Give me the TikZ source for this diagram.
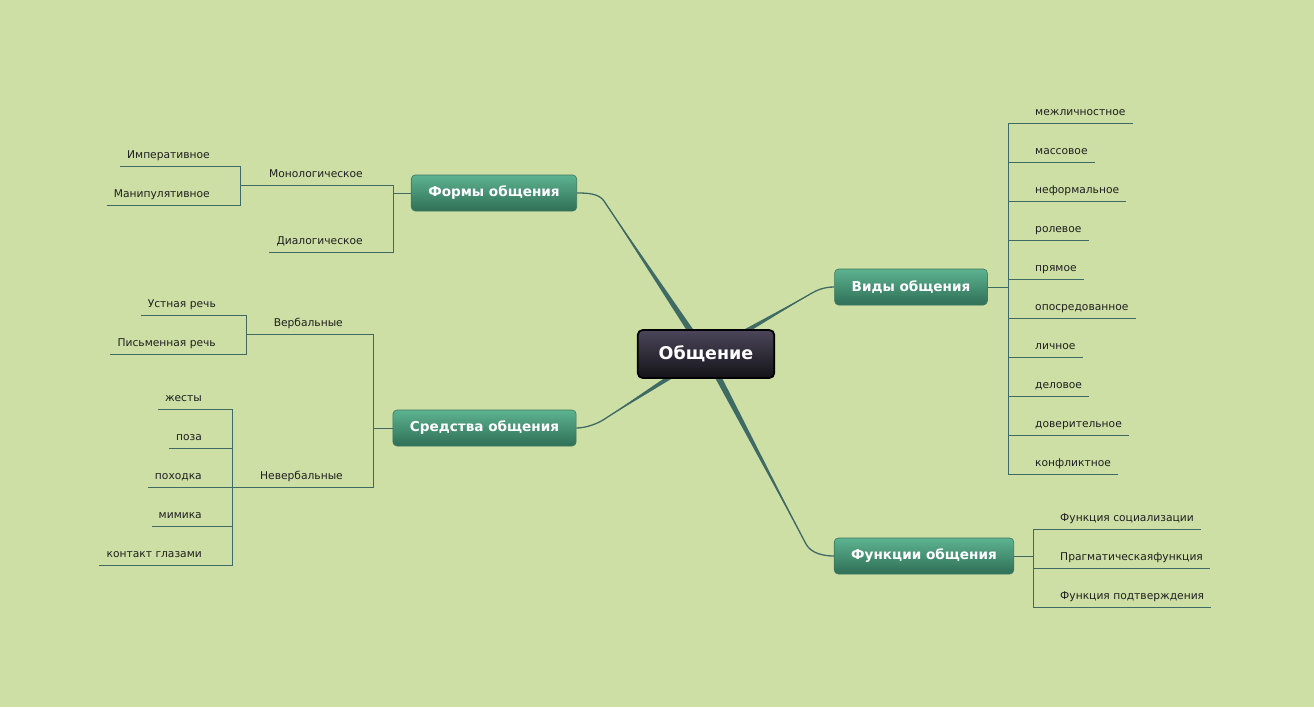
\documentclass[tikz,border=0pt]{standalone}
\usepackage{fontspec}
\setmainfont{DejaVu Sans}
\usetikzlibrary{calc,backgrounds}

\definecolor{mapbg}{RGB}{205,223,165}
\definecolor{maplink}{RGB}{64,106,100}
\definecolor{topictop}{RGB}{93,179,144}
\definecolor{topicbot}{RGB}{47,111,87}
\definecolor{topicline}{RGB}{58,120,96}
\definecolor{hubtop}{RGB}{75,70,90}
\definecolor{hubbot}{RGB}{20,19,24}

\tikzset{
    hubbox/.style={rounded corners=5pt, draw=black, line width=1.8pt, top color=hubtop, bottom color=hubbot,
        text=white, font=\fontsize{17.5}{20}\selectfont\bfseries, minimum height=48pt, inner xsep=21pt},
    topicbox/.style={rounded corners=4pt, draw=topicline, line width=0.6pt, top color=topictop, bottom color=topicbot,
        text=white, font=\fontsize{13.6}{15}\selectfont\bfseries, minimum height=36pt, inner xsep=17pt},
    leafbox/.style={font=\fontsize{10.7}{12}\selectfont, text=black!88, text height=8pt, text depth=0pt,
        inner xsep=7pt, inner ysep=7pt},
    leafl/.style={leafbox, anchor=south east},
    leafr/.style={leafbox, anchor=south west},
    linkline/.style={draw=maplink, line width=0.8pt},
    branchfill/.style={fill=maplink},
    branchline/.style={draw=maplink, line width=1.3pt}
}

\begin{document}
\begin{tikzpicture}[x=1pt, y=-1pt]
\useasboundingbox (0,0) rectangle (1314,707);

% main topics
\node[hubbox] (ob) at (706,354) {Общение};
\node[topicbox] (fo) at (494,193) {Формы общения};
\node[topicbox] (sr) at (484.5,428) {Средства общения};
\node[topicbox] (vi) at (911,287) {Виды общения};
\node[topicbox] (fu) at (924,556) {Функции общения};

% joints
\coordinate (fo-j) at (393,193);
\coordinate (mono-j) at (240,185);
\coordinate (sr-j) at (373,428);
\coordinate (verb-j) at (246,334);
\coordinate (never-j) at (232,487);
\coordinate (vi-j) at (1008,287);
\coordinate (fu-j) at (1033,556);
\coordinate (fo-b) at (604,201);
\coordinate (sr-b) at (603,420);
\coordinate (vi-b) at (812,293);
\coordinate (fu-b) at (806,544);

% forms
\node[leafl] (mono) at (370,185) {Монологическое};
\node[leafl] (dial) at (370,252) {Диалогическое};
\node[leafl] (imp) at (217,166) {Императивное};
\node[leafl] (man) at (217,205) {Манипулятивное};

% means
\node[leafl] (verb) at (350,334) {Вербальные};
\node[leafl] (never) at (350,487) {Невербальные};
\node[leafl] (ustn) at (223,315) {Устная речь};
\node[leafl] (pism) at (223,354) {Письменная речь};
\node[leafl] (zhest) at (209,409) {жесты};
\node[leafl] (poza) at (209,448) {поза};
\node[leafl] (pokh) at (209,487) {походка};
\node[leafl] (mim) at (209,526) {мимика};
\node[leafl] (kont) at (209,565) {контакт глазами};

% kinds
\node[leafr] (v1) at (1028,123) {межличностное};
\node[leafr] (v2) at (1028,162) {массовое};
\node[leafr] (v3) at (1028,201) {неформальное};
\node[leafr] (v4) at (1028,240) {ролевое};
\node[leafr] (v5) at (1028,279) {прямое};
\node[leafr] (v6) at (1028,318) {опосредованное};
\node[leafr] (v7) at (1028,357) {личное};
\node[leafr] (v8) at (1028,396) {деловое};
\node[leafr] (v9) at (1028,435) {доверительное};
\node[leafr] (v10) at (1028,474) {конфликтное};

% functions
\node[leafr] (f1) at (1053,529) {Функция социализации};
\node[leafr] (f2) at (1053,568) {Прагматическаяфункция};
\node[leafr] (f3) at (1053,607) {Функция подтверждения};

\begin{scope}[on background layer]
    \fill[mapbg] (0,0) rectangle (1314,707);
    % tapered branches from the centre
    \fill[branchfill] ($(ob.center)!3.5pt!90:(fo-b)$) -- (fo-b) -- ($(ob.center)!3.5pt!-90:(fo-b)$) -- cycle;
    \fill[branchfill] ($(ob.center)!3.5pt!90:(sr-b)$) -- (sr-b) -- ($(ob.center)!3.5pt!-90:(sr-b)$) -- cycle;
    \fill[branchfill] ($(ob.center)!3.5pt!90:(vi-b)$) -- (vi-b) -- ($(ob.center)!3.5pt!-90:(vi-b)$) -- cycle;
    \fill[branchfill] ($(ob.center)!3.5pt!90:(fu-b)$) -- (fu-b) -- ($(ob.center)!3.5pt!-90:(fu-b)$) -- cycle;
    \draw[branchline] (ob.center) -- (fo-b) .. controls ($(ob.center)!1.05!(fo-b)$) and ([xshift=10pt]fo.east) .. (fo.east);
    \draw[branchline] (ob.center) -- (sr-b) .. controls ($(ob.center)!1.05!(sr-b)$) and ([xshift=10pt]sr.east) .. (sr.east);
    \draw[branchline] (ob.center) -- (vi-b) .. controls ($(ob.center)!1.05!(vi-b)$) and ([xshift=-10pt]vi.west) .. (vi.west);
    \draw[branchline] (ob.center) -- (fu-b) .. controls ($(ob.center)!1.05!(fu-b)$) and ([xshift=-10pt]fu.west) .. (fu.west);
\end{scope}

% left side
\draw[linkline] (fo.west) -- (fo-j);
\draw[linkline] (mono-j) -- (mono.south -| fo-j) -- (fo-j);
\draw[linkline] (dial.south west) -- (dial.south -| fo-j) -- (fo-j);
\draw[linkline] (imp.south west) -- (imp.south -| mono-j) -- (mono-j);
\draw[linkline] (man.south west) -- (man.south -| mono-j) -- (mono-j);

\draw[linkline] (sr.west) -- (sr-j);
\draw[linkline] (verb-j) -- (verb.south -| sr-j) -- (sr-j);
\draw[linkline] (never-j) -- (never.south -| sr-j) -- (sr-j);
\draw[linkline] (ustn.south west) -- (ustn.south -| verb-j) -- (verb-j);
\draw[linkline] (pism.south west) -- (pism.south -| verb-j) -- (verb-j);
\draw[linkline] (zhest.south west) -- (zhest.south -| never-j) -- (never-j);
\draw[linkline] (poza.south west) -- (poza.south -| never-j) -- (never-j);
\draw[linkline] (pokh.south west) -- (pokh.south -| never-j) -- (never-j);
\draw[linkline] (mim.south west) -- (mim.south -| never-j) -- (never-j);
\draw[linkline] (kont.south west) -- (kont.south -| never-j) -- (never-j);

% right side
\draw[linkline] (vi.east) -- (vi-j);
\draw[linkline] (vi-j) -- (v1.south -| vi-j) -- (v1.south east);
\draw[linkline] (vi-j) -- (v2.south -| vi-j) -- (v2.south east);
\draw[linkline] (vi-j) -- (v3.south -| vi-j) -- (v3.south east);
\draw[linkline] (vi-j) -- (v4.south -| vi-j) -- (v4.south east);
\draw[linkline] (vi-j) -- (v5.south -| vi-j) -- (v5.south east);
\draw[linkline] (vi-j) -- (v6.south -| vi-j) -- (v6.south east);
\draw[linkline] (vi-j) -- (v7.south -| vi-j) -- (v7.south east);
\draw[linkline] (vi-j) -- (v8.south -| vi-j) -- (v8.south east);
\draw[linkline] (vi-j) -- (v9.south -| vi-j) -- (v9.south east);
\draw[linkline] (vi-j) -- (v10.south -| vi-j) -- (v10.south east);

\draw[linkline] (fu.east) -- (fu-j);
\draw[linkline] (fu-j) -- (f1.south -| fu-j) -- (f1.south east);
\draw[linkline] (fu-j) -- (f2.south -| fu-j) -- (f2.south east);
\draw[linkline] (fu-j) -- (f3.south -| fu-j) -- (f3.south east);
\end{tikzpicture}
\end{document}
